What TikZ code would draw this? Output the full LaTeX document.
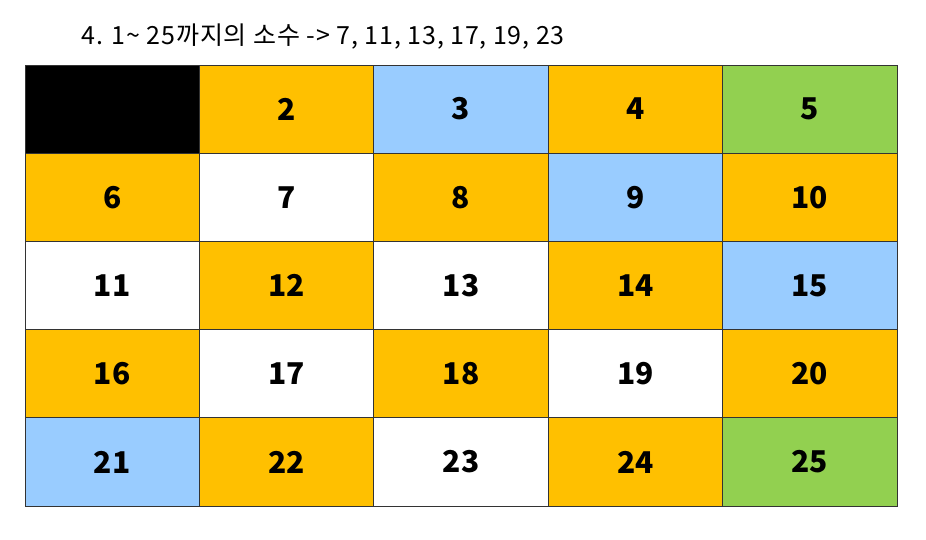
\documentclass[tikz,border=0pt]{standalone}
\usepackage{fontspec}
\setmainfont{Noto Sans CJK KR}
\usepackage{tikz}

\definecolor{cellorange}{HTML}{FFC000}
\definecolor{cellblue}{HTML}{99CCFF}
\definecolor{cellgreen}{HTML}{92D050}
\definecolor{cellline}{HTML}{333333}

\begin{document}
\begin{tikzpicture}[x=1pt,y=1pt,
  cell/.style={draw=cellline, line width=0.8pt, rectangle, inner sep=0pt,
    minimum width=174.4pt, minimum height=88.2pt,
    font=\fontsize{30}{34}\selectfont\bfseries}]
  \useasboundingbox (0,0) rectangle (926,-539);
  \node[anchor=west, font=\fontsize{25}{30}\selectfont\addfontfeatures{LetterSpace=3.4}] (title) at (78,-37) {4. 1\textasciitilde{} 25까지의 소수 -> 7, 11, 13, 17, 19, 23};

  \foreach \n/\c in {1/black, 2/cellorange, 3/cellblue, 4/cellorange, 5/cellgreen,
                     6/cellorange, 7/white, 8/cellorange, 9/cellblue, 10/cellorange,
                     11/white, 12/cellorange, 13/white, 14/cellorange, 15/cellblue,
                     16/cellorange, 17/white, 18/cellorange, 19/white, 20/cellorange,
                     21/cellblue, 22/cellorange, 23/white, 24/cellorange, 25/cellgreen} {
    \pgfmathtruncatemacro{\col}{mod(\n-1,5)}
    \pgfmathtruncatemacro{\row}{div(\n-1,5)}
    \ifnum\n=1
      \node[cell, fill=\c] (n\n) at ({25+174.4*(\col+0.5)},{-65-88.2*(\row+0.5)}) {};
    \else
      \node[cell, fill=\c] (n\n) at ({25+174.4*(\col+0.5)},{-65-88.2*(\row+0.5)}) {\n};
    \fi
  }
\end{tikzpicture}
\end{document}
